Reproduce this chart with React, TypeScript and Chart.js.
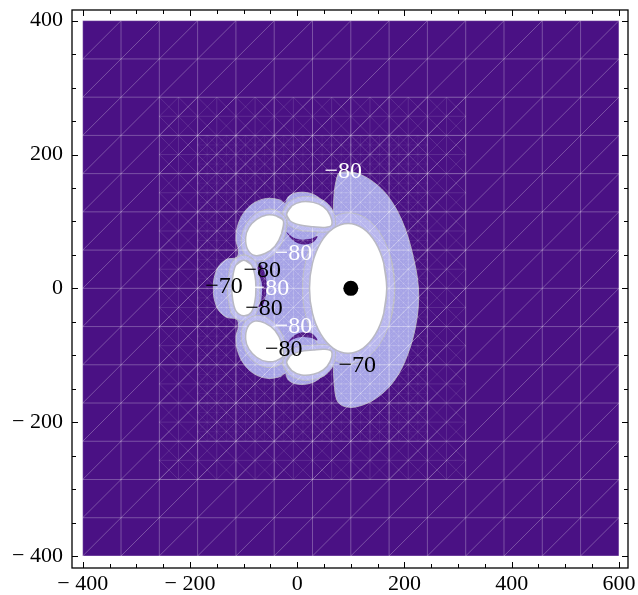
import React, { useEffect, useRef } from "react";
import { Chart, registerables } from "chart.js";

Chart.register(...registerables);

type P = [number, number];

// ---- axes ----
const xTickValues = [-400, -200, 0, 200, 400, 600];
const yTickValues = [-400, -200, 0, 200, 400];
const xMinorValues = [-350, -300, -250, -150, -100, -50, 50, 100, 150, 250, 300, 350, 450, 500, 550];
const yMinorValues = [-350, -300, -250, -150, -100, -50, 50, 100, 150, 250, 300, 350];

// ---- plot-range mesh (sampling grid lines) ----
const meshX = [-400, -328.6, -257.1, -185.7, -114.3, -42.9, 28.6, 100, 171.4, 242.9, 314.3, 385.7, 457.1, 528.6, 600];
const meshY = [-400, -342.9, -285.7, -228.6, -171.4, -114.3, -57.1, 0, 57.1, 114.3, 171.4, 228.6, 285.7, 342.9, 400];

// ---- contour regions ----
const lavenderRegion: P[] = [
  [80, 173], [111, 172], [142, 159], [170, 137], [195, 102], [213.5, 57], [226, 2], [223, -47],
  [207, -97], [182, -137], [148, -164], [111, -177], [86, -176], [74, -167], [69, -142], [67, -112],
  [65, -89], [58, -114.5], [45.6, -132], [23.9, -142], [-1, -143], [-16.5, -137], [-22.7, -127],
  [-32, -132], [-56.9, -134.4], [-81.8, -127], [-100.4, -112], [-111.6, -92], [-114, -72],
  [-109.7, -57.2], [-112.8, -46.3], [-131.5, -43.3], [-147, -32.3], [-155, -14.8], [-156.3, 0],
  [-155, 14.8], [-147, 32.3], [-131.5, 43.3], [-112.8, 46.3], [-109.7, 57.2], [-114, 72],
  [-111.6, 92], [-100.4, 112], [-81.8, 127], [-56.9, 134.4], [-32, 132], [-22.7, 127], [-16.5, 137],
  [-1, 143], [23.9, 142], [45.6, 132], [58.1, 114.5], [65, 89], [67, 112], [69, 142], [74, 165],
];

const ellipseBand: P[] = [
  [182, 0], [175.5, 43.3], [156.8, 79.9], [128.9, 104.4], [96, 113], [63.1, 104.4], [35.2, 79.9], [16.5, 43.3],
  [10, 0], [16.5, -43.3], [35.2, -79.9], [63.1, -104.4], [96, -113], [128.9, -104.4], [156.8, -79.9], [175.5, -43.3],
];

const bandTopCenter: P[] = [[-27, 112], [-15, 129], [8, 137], [32, 136], [53, 129], [68, 113], [70, 90], [52, 84], [30, 85], [4, 87], [-18, 96]];
const bandUpperLeft: P[] = [[-20, 103], [-37, 116], [-58, 118], [-80, 110], [-96, 95], [-104, 76], [-100, 53], [-80, 41], [-56, 44], [-36, 58], [-22, 82]];
const bandLeft: P[] = [[-100, 50], [-80, 42], [-71, 22], [-70, 0], [-71, -22], [-80, -42], [-100, -49], [-120, -41], [-128, -20], [-130, 0], [-128, 20], [-120, 41]];
const bandLowerLeft: P[] = [[-20, -103], [-37, -116], [-58, -118], [-80, -110], [-96, -95], [-104, -76], [-100, -53], [-80, -41], [-56, -44], [-36, -58], [-22, -82]];
const bandBottomCenter: P[] = [[-27, -112], [-15, -129], [8, -137], [32, -136], [53, -129], [68, -113], [70, -90], [52, -84], [30, -85], [4, -87], [-18, -96]];

const darkUpper: P[] = [[-20, 84], [-8, 72], [8, 66], [28, 68], [38, 78], [25, 74], [5, 73], [-10, 77]];
const darkLower: P[] = [[-20, -84], [-8, -72], [8, -66], [28, -68], [38, -78], [25, -74], [5, -73], [-10, -77]];
const darkLeft: P[] = [[-74, 32], [-66, 34], [-57, 8], [-62, -22], [-72, -28], [-67, -18], [-66, 8]];

const lobeTopCenter: P[] = [[-19.6, 111], [-10.3, 123], [8.3, 129.5], [30.1, 128.5], [48.7, 122], [61.2, 109.5], [64.3, 94.6], [51.9, 91.1], [30.1, 92.1], [5.2, 94.6], [-13.4, 101]];
const lobeUpperLeft: P[] = [[-25.8, 101], [-38.3, 108], [-56.9, 109.5], [-75.6, 103], [-89.9, 91], [-96.1, 76], [-92.3, 58], [-78.7, 49], [-60, 52], [-41.4, 63], [-29, 82]];
const lobeLeft: P[] = [[-100, 42], [-86, 36], [-79, 20], [-77, 0], [-79, -20], [-86, -36], [-100, -41], [-114, -34], [-120, -18], [-122, 0], [-120, 18], [-114, 35]];
const lobeLowerLeft: P[] = [[-25.8, -101], [-38.3, -108], [-56.9, -109.5], [-75.6, -103], [-89.9, -91], [-96.1, -76], [-92.3, -58], [-78.7, -49], [-60, -52], [-41.4, -63], [-29, -82]];
const lobeBottomCenter: P[] = [[-19.6, -111], [-10.3, -123], [8.3, -129.5], [30.1, -128.5], [48.7, -122], [61.2, -109.5], [64.3, -94.6], [51.9, -91.1], [30.1, -92.1], [5.2, -94.6], [-13.4, -101]];

const bigEllipse: P[] = [
  [167, 0], [161.5, 37.2], [145.9, 68.6], [122.6, 89.6], [95, 97], [67.4, 89.6], [44.1, 68.6], [28.5, 37.2],
  [23, 0], [28.5, -37.2], [44.1, -68.6], [67.4, -89.6], [95, -97], [122.6, -89.6], [145.9, -68.6], [161.5, -37.2],
];

const chargePoint: P[] = [[100, 0]];

// ---- contour labels ----
const contourLabelText = ["\u221280", "\u221280", "\u221280", "\u221270", "\u221280", "\u221280", "\u221280", "\u221280", "\u221270"];
const contourLabelX = [86, -7, -65, -136.5, -50, -62, -7, -25, 112];
const contourLabelY = [174, 52, 27, 2, -1, -30, -57, -92, -116];
const contourLabelColor = ["#ffffff", "#ffffff", "#000000", "#000000", "#ffffff", "#000000", "#ffffff", "#000000", "#000000"];

// ---- style ----
const PURPLE = "#4a1184";
const LAVENDER = "#a4a1e6";
const BAND = "#b6b4ee";
const LOBE_BAND = "#bbbaf0";
const CONTOUR_GRAY = "#b9b9c3";
const FONT = "'Liberation Serif', 'Times New Roman', serif";

const fmt = (v: number) => (v < 0 ? `\u2212 ${Math.abs(v)}` : `${v}`);

const closed = (pts: P[]) => {
  const all = [pts[pts.length - 1], ...pts, pts[0], pts[1]];
  return all.map(([x, y]) => ({ x, y }));
};

function shape(pts: P[], fillColor: string, stroke: string, width: number, extra: any = {}) {
  return {
    data: closed(pts),
    showLine: true,
    fill: "shape",
    backgroundColor: fillColor,
    borderColor: stroke,
    borderWidth: width,
    pointRadius: 0,
    pointHoverRadius: 0,
    tension: 0.35,
    ...extra,
  };
}

function drawGrid(chart: any, i0: number, i1: number, j0: number, j1: number, div: number, both: boolean, stroke: string, lw: number, clipIndex = -1) {
  const { ctx, scales } = chart;
  const xs = scales.x, ys = scales.y;
  const L = xs.getPixelForValue(meshX[i0]);
  const R = xs.getPixelForValue(meshX[i1]);
  const B = ys.getPixelForValue(meshY[j0]);
  const T = ys.getPixelForValue(meshY[j1]);
  const nx = (i1 - i0) * div;
  const ny = (j1 - j0) * div;
  const w = (R - L) / nx;
  const h = (B - T) / ny;
  ctx.save();
  ctx.beginPath();
  ctx.rect(L - 0.5, T - 0.5, R - L + 1, B - T + 1);
  ctx.clip();
  if (clipIndex >= 0) {
    const el = chart.getDatasetMeta(clipIndex).dataset;
    if (el) {
      ctx.beginPath();
      el.path(ctx);
      ctx.closePath();
      ctx.clip();
    }
  }
  ctx.strokeStyle = stroke;
  ctx.lineWidth = lw;
  ctx.beginPath();
  for (let k = 0; k <= nx; k++) {
    const px = L + k * w;
    ctx.moveTo(px, T);
    ctx.lineTo(px, B);
  }
  for (let k = 0; k <= ny; k++) {
    const py = T + k * h;
    ctx.moveTo(L, py);
    ctx.lineTo(R, py);
  }
  for (let k = -ny; k <= nx; k++) {
    ctx.moveTo(L + k * w, B);
    ctx.lineTo(L + (k + ny) * w, T);
  }
  if (both) {
    for (let k = -ny; k <= nx; k++) {
      ctx.moveTo(L + k * w, T);
      ctx.lineTo(L + (k + ny) * w, B);
    }
  }
  ctx.stroke();
  ctx.restore();
}

const meshPlugin = {
  id: "meshPlugin",
  beforeDatasetsDraw(chart: any) {
    const { ctx, scales } = chart;
    const l = scales.x.getPixelForValue(meshX[0]);
    const r = scales.x.getPixelForValue(meshX[meshX.length - 1]);
    const t = scales.y.getPixelForValue(meshY[meshY.length - 1]);
    const b = scales.y.getPixelForValue(meshY[0]);
    ctx.save();
    ctx.fillStyle = PURPLE;
    ctx.fillRect(l, t, r - l, b - t);
    ctx.restore();
  },
  afterDatasetDraw(chart: any, args: any) {
    const ds = chart.data.datasets[args.index];
    if (!ds || !ds.meshAfter) return;
    drawGrid(chart, 0, 14, 0, 14, 1, false, "rgba(255,255,255,0.27)", 1);
    drawGrid(chart, 2, 10, 2, 12, 2, true, "rgba(255,255,255,0.15)", 0.8);
    drawGrid(chart, 3, 9, 3, 11, 4, true, "rgba(255,255,255,0.09)", 0.7);
    drawGrid(chart, 3, 9, 3, 11, 8, true, "rgba(255,255,255,0.13)", 0.6, 0);
  },
  afterDatasetsDraw(chart: any) {
    const { ctx, scales } = chart;
    ctx.save();
    ctx.font = `24px ${FONT}`;
    ctx.textAlign = "center";
    ctx.textBaseline = "middle";
    for (let i = 0; i < contourLabelText.length; i++) {
      ctx.fillStyle = contourLabelColor[i];
      ctx.fillText(contourLabelText[i], scales.x.getPixelForValue(contourLabelX[i]), scales.y.getPixelForValue(contourLabelY[i]));
    }
    ctx.restore();
  },
  afterDraw(chart: any) {
    const { ctx, chartArea, scales } = chart;
    const { left, right, top, bottom } = chartArea;
    ctx.save();
    ctx.strokeStyle = "#000";
    ctx.lineWidth = 1.3;
    ctx.strokeRect(left, top, right - left, bottom - top);
    ctx.lineWidth = 1;
    ctx.beginPath();
    const tickX = (v: number, len: number) => {
      const px = Math.round(scales.x.getPixelForValue(v)) + 0.5;
      ctx.moveTo(px, bottom);
      ctx.lineTo(px, bottom - len);
      ctx.moveTo(px, top);
      ctx.lineTo(px, top + len);
    };
    const tickY = (v: number, len: number) => {
      const py = Math.round(scales.y.getPixelForValue(v)) + 0.5;
      ctx.moveTo(left, py);
      ctx.lineTo(left + len, py);
      ctx.moveTo(right, py);
      ctx.lineTo(right - len, py);
    };
    xTickValues.forEach((v) => tickX(v, 6));
    xMinorValues.forEach((v) => tickX(v, 4));
    yTickValues.forEach((v) => tickY(v, 6));
    yMinorValues.forEach((v) => tickY(v, 4));
    ctx.stroke();
    ctx.restore();
  },
};

export default function App() {
  const ref = useRef<HTMLCanvasElement | null>(null);
  useEffect(() => {
    if (!ref.current) return;
    const datasets: any[] = [
      shape(lavenderRegion, LAVENDER, "rgba(185,185,200,0.9)", 1),
      shape(ellipseBand, BAND, CONTOUR_GRAY, 1),
      shape(bandTopCenter, LOBE_BAND, CONTOUR_GRAY, 1),
      shape(bandUpperLeft, LOBE_BAND, CONTOUR_GRAY, 1),
      shape(bandLeft, LOBE_BAND, CONTOUR_GRAY, 1),
      shape(bandLowerLeft, LOBE_BAND, CONTOUR_GRAY, 1),
      shape(bandBottomCenter, LOBE_BAND, CONTOUR_GRAY, 1),
      shape(darkUpper, PURPLE, "rgba(0,0,0,0)", 0),
      shape(darkLower, PURPLE, "rgba(0,0,0,0)", 0),
      shape(darkLeft, PURPLE, "rgba(0,0,0,0)", 0, { meshAfter: true }),
      shape(lobeTopCenter, "#ffffff", CONTOUR_GRAY, 1.5),
      shape(lobeUpperLeft, "#ffffff", CONTOUR_GRAY, 1.5),
      shape(lobeLeft, "#ffffff", CONTOUR_GRAY, 1.5),
      shape(lobeLowerLeft, "#ffffff", CONTOUR_GRAY, 1.5),
      shape(lobeBottomCenter, "#ffffff", CONTOUR_GRAY, 1.5),
      shape(bigEllipse, "#ffffff", CONTOUR_GRAY, 1.5),
      {
        data: chargePoint.map(([x, y]) => ({ x, y })),
        showLine: false,
        pointRadius: 7.5,
        pointHoverRadius: 7.5,
        backgroundColor: "#000",
        borderColor: "#000",
        borderWidth: 0,
      },
    ];
    datasets.forEach((d, i) => (d.order = -i));

    const chart = new Chart(ref.current, {
      type: "scatter",
      data: { datasets },
      options: {
        animation: false,
        responsive: false,
        devicePixelRatio: 1,
        layout: { padding: { left: 0, top: 10, right: 10, bottom: 0 } },
        plugins: { legend: { display: false }, tooltip: { enabled: false } },
        scales: {
          x: {
            type: "linear",
            position: "bottom",
            min: -420,
            max: 617,
            afterBuildTicks: (s: any) => {
              s.ticks = xTickValues.map((v) => ({ value: v }));
            },
            afterFit: (s: any) => {
              s.height = 27;
              s.paddingLeft = 0;
              s.paddingRight = 0;
            },
            grid: { display: false, drawTicks: false },
            border: { display: false },
            ticks: {
              callback: (v: any) => fmt(Number(v)),
              font: { family: FONT, size: 22 },
              color: "#000",
              padding: 3,
              maxRotation: 0,
              autoSkip: false,
            },
          },
          y: {
            type: "linear",
            position: "left",
            min: -418,
            max: 416,
            afterBuildTicks: (s: any) => {
              s.ticks = yTickValues.map((v) => ({ value: v }));
            },
            afterFit: (s: any) => {
              s.width = 72;
              s.paddingTop = 0;
              s.paddingBottom = 0;
            },
            grid: { display: false, drawTicks: false },
            border: { display: false },
            ticks: {
              callback: (v: any) => fmt(Number(v)),
              font: { family: FONT, size: 22 },
              color: "#000",
              padding: 9,
              autoSkip: false,
            },
          },
        },
      } as any,
      plugins: [meshPlugin as any],
    });
    return () => chart.destroy();
  }, []);

  return (
    <div style={{ position: "absolute", left: 0, top: 0, width: 638, height: 595, background: "#fff" }}>
      <canvas ref={ref} width={638} height={595} style={{ display: "block", width: 638, height: 595 }} />
    </div>
  );
}
